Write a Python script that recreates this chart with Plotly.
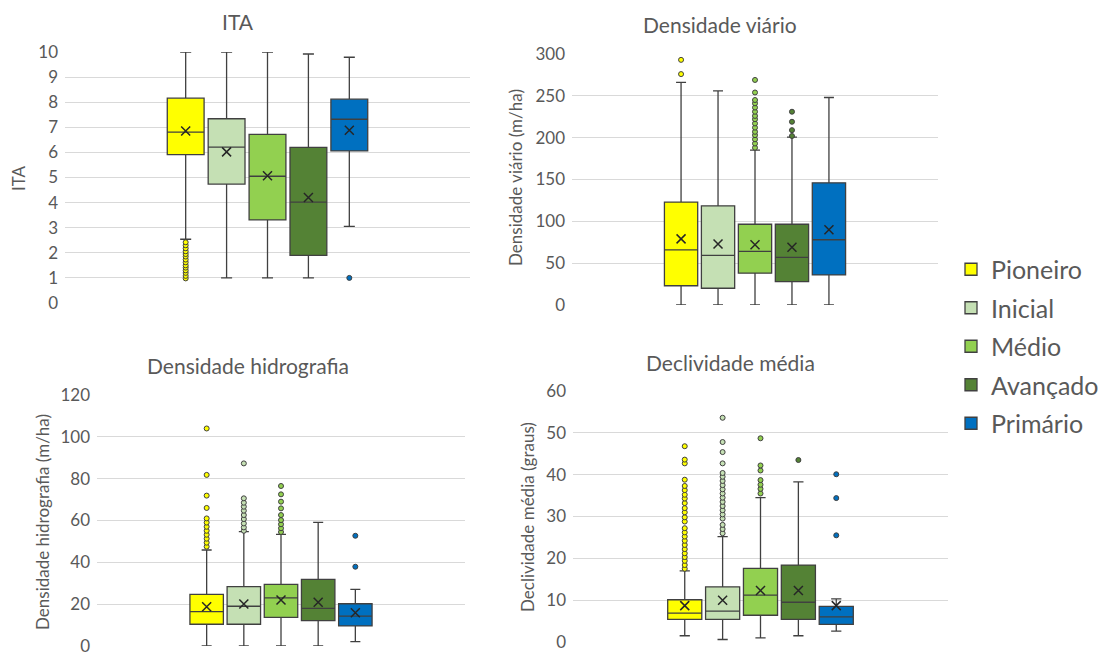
import plotly.graph_objects as go
from plotly.subplots import make_subplots

CLASSES = ["Pioneiro", "Inicial", "Médio", "Avançado", "Primário"]
COLORS = ["#FFFF00", "#C5E0B4", "#92D050", "#548235", "#0070C0"]

# ---- ITA ----
ITA_LOWER = [2.54, 1.0, 1.0, 1.0, 3.05]
ITA_Q1 = [5.91, 4.74, 3.31, 1.90, 6.06]
ITA_MEDIAN = [6.81, 6.21, 5.05, 4.02, 7.32]
ITA_Q3 = [8.16, 7.34, 6.72, 6.20, 8.12]
ITA_UPPER = [10.0, 10.0, 10.0, 9.92, 9.79]
ITA_MEAN = [6.85, 6.02, 5.07, 4.20, 6.88]
ITA_OUTLIERS = [
    [0.98, 1.08, 1.2, 1.3, 1.41, 1.5, 1.62, 1.73, 1.85, 1.95, 2.06, 2.18, 2.3, 2.42],
    [], [], [], [1.0],
]

# ---- Densidade viário ----
VIA_LOWER = [0, 0, 0, 0, 0]
VIA_Q1 = [23, 20, 38, 28, 36]
VIA_MEDIAN = [66, 59.4, 64, 57, 78]
VIA_Q3 = [123, 118.5, 96.5, 96.5, 146]
VIA_UPPER = [266, 256, 185, 200.6, 248]
VIA_MEAN = [79, 73, 72, 69, 90]
VIA_OUTLIERS = [
    [276, 293],
    [],
    [188, 193, 198, 203, 207, 212, 217, 222, 226, 231, 236, 241, 245, 254, 269],
    [202, 209, 219, 231],
    [],
]

# ---- Densidade hidrografia ----
HID_LOWER = [0, 0, 0, 0, 2.1]
HID_Q1 = [10.4, 10.4, 13.7, 12.1, 9.6]
HID_MEDIAN = [16.4, 19.0, 23.0, 18.0, 14.3]
HID_Q3 = [24.7, 28.4, 29.5, 31.9, 20.2]
HID_UPPER = [45.9, 54.7, 53.4, 59.1, 27.1]
HID_MEAN = [18.8, 20.1, 22.0, 20.9, 15.9]
HID_OUTLIERS = [
    [47.5, 49.4, 51.3, 53.2, 55.1, 57.0, 59.0, 61.0, 66.0, 71.9, 81.8, 104.0],
    [55.1, 56.7, 58.6, 60.7, 62.6, 64.7, 66.6, 68.5, 70.6, 87.3],
    [54.5, 56.3, 58.2, 60.2, 62.6, 65.8, 69.0, 72.5, 76.5],
    [],
    [37.9, 52.7],
]

# ---- Declividade média ----
DEC_LOWER = [1.5, 0.6, 1.0, 1.5, 2.6]
DEC_Q1 = [5.4, 5.4, 6.4, 5.4, 4.2]
DEC_MEDIAN = [6.9, 7.4, 11.2, 9.5, 6.0]
DEC_Q3 = [10.1, 13.2, 17.6, 18.4, 8.5]
DEC_UPPER = [17.0, 25.2, 34.5, 38.3, 10.3]
DEC_MEAN = [8.7, 10.0, 12.3, 12.3, 8.7]
DEC_OUTLIERS = [
    [17.5, 18.4, 19.4, 20.3, 21.2, 22.2, 23.2, 24.2, 25.2, 26.2, 27.2, 28.8, 29.8,
     31.0, 32.0, 33.2, 34.3, 35.2, 36.3, 37.3, 38.8, 42.7, 43.6, 46.8],
    [26.0, 27.0, 28.0, 29.5, 30.5, 31.5, 32.5, 33.5, 34.5, 35.5, 36.5, 37.5, 38.5,
     39.5, 40.4, 42.7, 45.4, 47.8, 53.6],
    [35.5, 36.6, 37.6, 38.7, 41.0, 42.2, 48.7],
    [43.5],
    [25.5, 34.4, 40.1],
]

PANELS = [
    dict(title="ITA", ylabel="ITA",
         data=(ITA_LOWER, ITA_Q1, ITA_MEDIAN, ITA_Q3, ITA_UPPER, ITA_MEAN, ITA_OUTLIERS),
         yrange=[0, 10], dtick=1,
         dom=(65, 470, 52, 303), tpos=(238, 22), lpos=(18, 178)),
    dict(title="Densidade viário", ylabel="Densidade viário (m/ha)",
         data=(VIA_LOWER, VIA_Q1, VIA_MEDIAN, VIA_Q3, VIA_UPPER, VIA_MEAN, VIA_OUTLIERS),
         yrange=[0, 300], dtick=50,
         dom=(572, 938, 54, 305), tpos=(720, 25), lpos=(515, 178)),
    dict(title="Densidade hidrografia", ylabel="Densidade hidrografia (m/ha)",
         data=(HID_LOWER, HID_Q1, HID_MEDIAN, HID_Q3, HID_UPPER, HID_MEAN, HID_OUTLIERS),
         yrange=[0, 120], dtick=20,
         dom=(97, 465, 395, 646), tpos=(248, 365), lpos=(42, 522)),
    dict(title="Declividade média", ylabel="Declividade média (graus)",
         data=(DEC_LOWER, DEC_Q1, DEC_MEDIAN, DEC_Q3, DEC_UPPER, DEC_MEAN, DEC_OUTLIERS),
         yrange=[0, 60], dtick=10,
         dom=(573, 948, 391, 642), tpos=(730, 362), lpos=(527, 517)),
]

# page has an 8px body margin: figure sits at (8, 8) inside the 1109x653 window
OFF = 8
W, H = 1109 - OFF, 653 - OFF


def px(x):
    return (x - OFF) / W


def py(y):
    return 1 - (y - OFF) / H


FONT = "Lato, 'Open Sans', sans-serif"
GRAY = "#595959"
EDGE = "#404040"

fig = make_subplots(rows=2, cols=2)

annotations = []
for p_i, panel in enumerate(PANELS):
    row, col = p_i // 2 + 1, p_i % 2 + 1
    lower, q1, med, q3, upper, mean, outl = panel["data"]
    for k, cls in enumerate(CLASSES):
        fig.add_trace(go.Box(
            x=[cls], lowerfence=[lower[k]], q1=[q1[k]], median=[med[k]],
            q3=[q3[k]], upperfence=[upper[k]],
            name=cls, legendgroup=cls, showlegend=(p_i == 0),
            fillcolor=COLORS[k], line=dict(color=EDGE, width=1.3),
            whiskerwidth=0.3, width=0.9, boxpoints=False,
            hoverinfo="skip",
        ), row=row, col=col)
        if outl[k]:
            fig.add_trace(go.Scatter(
                x=[cls] * len(outl[k]), y=outl[k], mode="markers",
                marker=dict(symbol="circle", size=5, color=COLORS[k],
                            line=dict(color=EDGE, width=1)),
                showlegend=False, legendgroup=cls, hoverinfo="skip",
            ), row=row, col=col)
        fig.add_trace(go.Scatter(
            x=[cls], y=[mean[k]], mode="markers",
            marker=dict(symbol="x-thin", size=9, line=dict(color="#262626", width=1.5)),
            showlegend=False, legendgroup=cls, hoverinfo="skip",
        ), row=row, col=col)

    x0, x1, y0, y1 = panel["dom"]
    sfx = "" if p_i == 0 else str(p_i + 1)
    fig.layout["xaxis" + sfx].update(
        domain=[px(x0), px(x1)], type="category", categoryorder="array",
        categoryarray=CLASSES, range=[-2.95, 6.95], showticklabels=False,
        showgrid=False, zeroline=False, showline=False, ticks="", automargin=False,
    )
    fig.layout["yaxis" + sfx].update(
        domain=[py(y1), py(y0)], range=panel["yrange"], dtick=panel["dtick"],
        showgrid=True, gridcolor="#D9D9D9", gridwidth=1, zeroline=False,
        showline=False, ticks="", tickfont=dict(size=17, color=GRAY, family=FONT),
        ticklabelstandoff=6, automargin=False, ticklabeloverflow="allow",
    )
    tx, ty = panel["tpos"]
    annotations.append(dict(text=panel["title"], x=px(tx), y=py(ty),
                            xref="paper", yref="paper", xanchor="center", yanchor="middle",
                            showarrow=False, font=dict(size=21, color=GRAY, family=FONT)))
    lx, ly = panel["lpos"]
    annotations.append(dict(text=panel["ylabel"], x=px(lx), y=py(ly), textangle=-90,
                            xref="paper", yref="paper", xanchor="center", yanchor="middle",
                            showarrow=False, font=dict(size=17, color=GRAY, family=FONT)))

fig.update_layout(
    width=W, height=H, margin=dict(l=0, r=0, t=0, b=0, autoexpand=False),
    paper_bgcolor="white", plot_bgcolor="white",
    boxmode="overlay", showlegend=True,
    legend=dict(x=px(951), y=py(346.5), xanchor="left", yanchor="middle",
                font=dict(size=25, color=GRAY, family=FONT),
                tracegroupgap=3, bgcolor="rgba(0,0,0,0)"),
    annotations=annotations,
)

fig.write_html("out.html")
